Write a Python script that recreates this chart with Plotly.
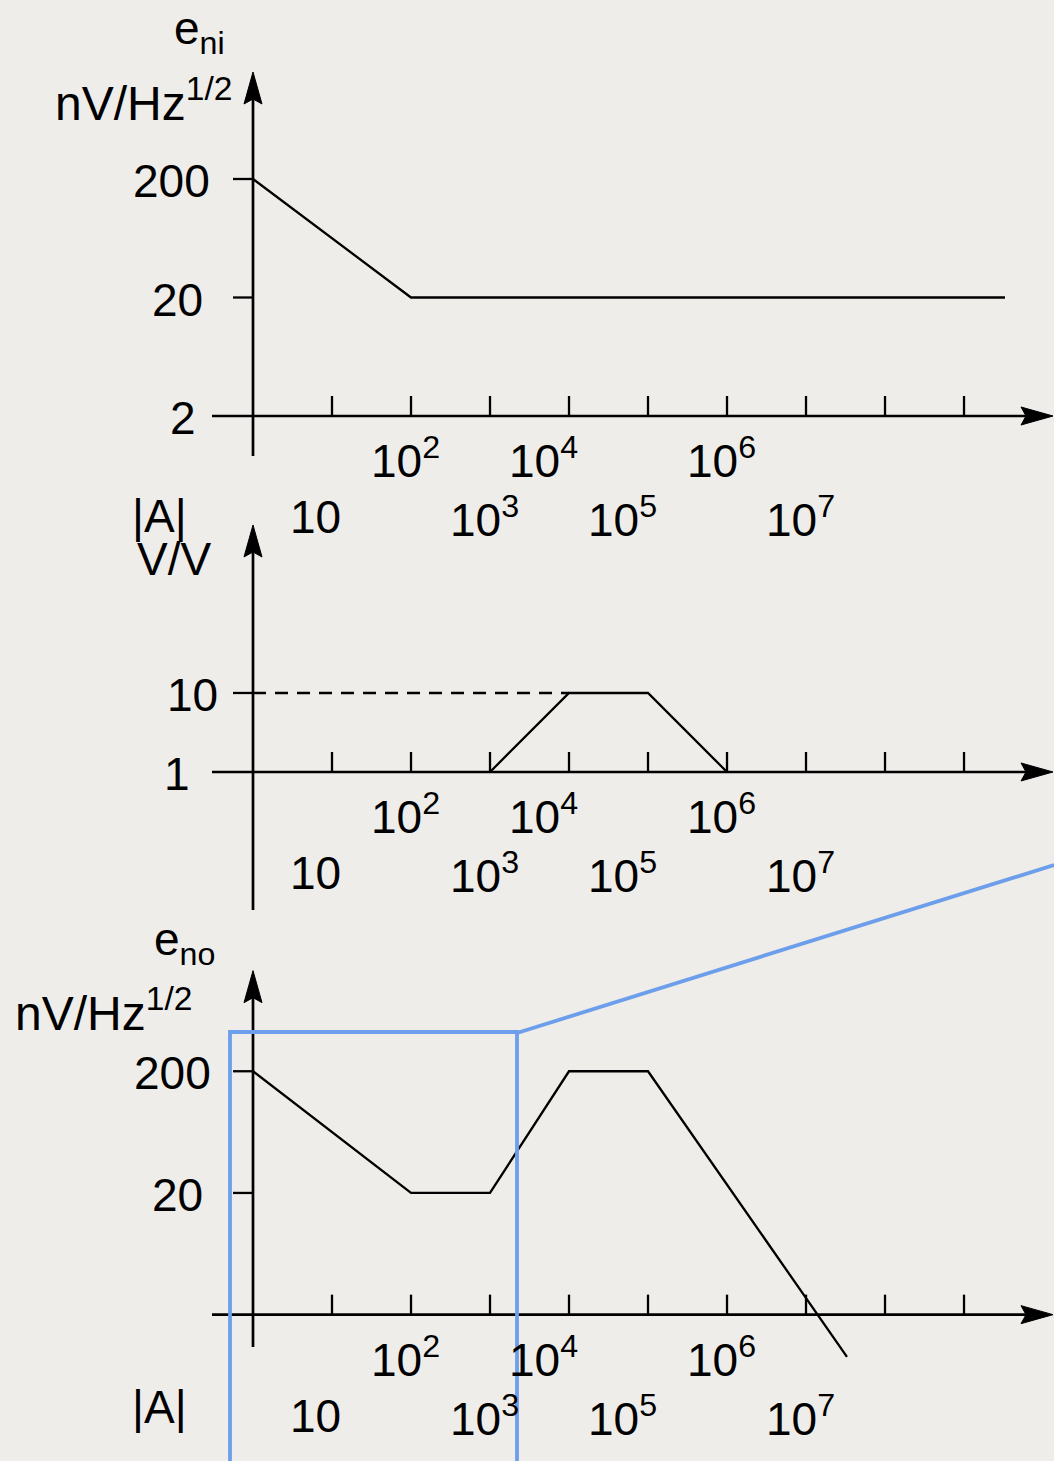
import math
import plotly.graph_objects as go

# ---------------- data ----------------
# |A| axis: tick exponents (decades) shown on every panel
tick_exps = [1, 2, 3, 4, 5, 6, 7, 8, 9]
label_row1_exps = [2, 4, 6]
label_row2_exps = [1, 3, 5, 7]

# panel 1: input noise e_ni (nV/Hz^1/2) vs |A|
eni_x = [1, 1e2, 3.3e9]
eni_y = [200, 20, 20]
eni_ytick_vals = [200, 20]
eni_ylabels = ["200", "20", "2"]
eni_ylabel_vals = [200, 20, 2]
eni_axis_y = 2

# panel 2: gain |A| (V/V) vs |A|
gain_x = [1e3, 1e4, 1e5, 1e6]
gain_y = [1, 10, 10, 1]
gain_ref_x = [1, 1e4]
gain_ref_y = [10, 10]
gain_ytick_vals = [10]
gain_ylabels = ["10", "1"]
gain_ylabel_vals = [10, 1]
gain_axis_y = 1

# panel 3: output noise e_no (nV/Hz^1/2) vs |A|
eno_x = [1, 1e2, 1e3, 1e4, 1e5, 3.3e7]
eno_y = [200, 20, 20, 200, 200, 0.9]
eno_ytick_vals = [200, 20]
eno_ylabels = ["200", "20"]
eno_ylabel_vals = [200, 20]
eno_axis_y = 2

# ---------------- style ----------------
W, H = 1054, 1461
BG = "#eeede9"
INK = "#000000"
BLUE = "#6d9eeb"
FONT = "Liberation Sans, Arial, Helvetica, sans-serif"
FS = 46
AXW = 2.7
CURW = 2.3

# label horizontal nudges (px) relative to tick positions
row1_dx = {2: -6, 4: -26, 6: -6}
row2_dx = {1: -17, 3: -6, 5: -26, 7: -6}

fig = go.Figure()

X_RANGE = [-3.2025, 10.139]
X_LEFT = 10 ** X_RANGE[0]          # left edge of every panel (pixel anchor)
panels = [
    dict(xa="x", ya="y", dom=[1 - 480 / H, 1.0], yr=[-0.2391, 3.8116],
         axis_y=eni_axis_y, up=344, yline=(24, 390), ytick=eni_ytick_vals,
         ylabels=eni_ylabels, ylabel_vals=eni_ylabel_vals,
         ylabel_dx=[-41, -48, -55]),
    dict(xa="x2", ya="y2", dom=[1 - 925 / H, 1 - 480 / H], yr=[-1.937, 3.696],
         axis_y=gain_axis_y, up=247, yline=(15, 382), ytick=gain_ytick_vals,
         ylabels=gain_ylabels, ylabel_vals=gain_ylabel_vals,
         ylabel_dx=[-33, -61]),
    dict(xa="x3", ya="y3", dom=[0.0, 1 - 925 / H], yr=[-0.9015, 3.5027],
         axis_y=eno_axis_y, up=344, yline=(114, 481), ytick=eno_ytick_vals,
         ylabels=eno_ylabels, ylabel_vals=eno_ylabel_vals,
         ylabel_dx=[-40, -48]),
]

curves = [
    (0, eni_x, eni_y, None),
    (1, gain_x, gain_y, None),
    (1, gain_ref_x, gain_ref_y, "13px,9px"),
    (2, eno_x, eno_y, None),
]
for pi, xs, ys, dash in curves:
    p = panels[pi]
    fig.add_trace(go.Scatter(
        x=xs, y=ys, xaxis=p["xa"], yaxis=p["ya"], mode="lines",
        line=dict(color=INK, width=CURW, dash=dash or "solid"),
        hoverinfo="skip", showlegend=False))

shapes = []
annotations = []
for p in panels:
    xr, yr, ay = p["xa"], p["ya"], p["axis_y"]
    y_bottom = 10 ** p["yr"][0]
    # x axis line (pixel offsets from the panel's left edge)
    shapes.append(dict(type="line", xref=xr, yref=yr, xsizemode="pixel", xanchor=X_LEFT,
                       x0=212, x1=1035, y0=ay, y1=ay, line=dict(color=INK, width=AXW)))
    # y axis line (pixel offsets from the panel's bottom edge)
    shapes.append(dict(type="line", xref=xr, yref=yr, ysizemode="pixel", yanchor=y_bottom,
                       y0=p["yline"][0], y1=p["yline"][1], x0=1, x1=1,
                       line=dict(color=INK, width=AXW)))
    # arrow heads
    shapes.append(dict(type="path", xref=xr, yref=yr, xsizemode="pixel", ysizemode="pixel",
                       xanchor=1, yanchor=ay,
                       path="M800,0 L768,9 L773,0 L768,-9 Z",
                       fillcolor=INK, line=dict(color=INK, width=1)))
    u = p["up"]
    shapes.append(dict(type="path", xref=xr, yref=yr, xsizemode="pixel", ysizemode="pixel",
                       xanchor=1, yanchor=ay,
                       path=f"M0,{u} L-9,{u-32} L0,{u-27} L9,{u-32} Z",
                       fillcolor=INK, line=dict(color=INK, width=1)))
    # x ticks
    for e in tick_exps:
        shapes.append(dict(type="line", xref=xr, yref=yr, ysizemode="pixel", yanchor=ay,
                           y0=0.5, y1=20, x0=10 ** e, x1=10 ** e,
                           line=dict(color=INK, width=2.3)))
    # y ticks
    for v in p["ytick"]:
        shapes.append(dict(type="line", xref=xr, yref=yr, xsizemode="pixel", xanchor=X_LEFT,
                           x0=233, x1=253, y0=v, y1=v, line=dict(color=INK, width=2.3)))
    # x tick labels (two staggered rows)
    for e in label_row1_exps:
        annotations.append(dict(xref=xr, yref=yr, x=e, y=math.log10(ay), text=f"10<sup>{e}</sup>",
                                showarrow=False, xanchor="center", yanchor="middle",
                                xshift=row1_dx[e], yshift=-42,
                                font=dict(size=FS, color=INK, family=FONT)))
    for e in label_row2_exps:
        txt = "10" if e == 1 else f"10<sup>{e}</sup>"
        annotations.append(dict(xref=xr, yref=yr, x=e, y=math.log10(ay), text=txt,
                                showarrow=False, xanchor="center", yanchor="middle",
                                xshift=row2_dx[e], yshift=-101,
                                font=dict(size=FS, color=INK, family=FONT)))
    # y tick labels
    for lab, v, dx in zip(p["ylabels"], p["ylabel_vals"], p["ylabel_dx"]):
        annotations.append(dict(xref=xr, yref=yr, x=0, y=math.log10(v), text=lab,
                                showarrow=False, xanchor="right", yanchor="middle",
                                xshift=dx, yshift=-2,
                                font=dict(size=FS, color=INK, family=FONT)))

# axis titles (paper coordinates)
def ptxt(text, x_px, y_px, anchor="right", size=FS):
    annotations.append(dict(xref="paper", yref="paper", x=x_px / W, y=1 - y_px / H,
                            text=text, showarrow=False, xanchor=anchor, yanchor="middle",
                            font=dict(size=size, color=INK, family=FONT)))

ptxt("e<sub>ni</sub>", 227, 32)
ptxt("nV/Hz<sup>1/2</sup>", 234, 100, size=48)
ptxt("|A|", 159, 516, "center")
ptxt("V/V", 174, 559, "center")
ptxt("e<sub>no</sub>", 217, 942)
ptxt("nV/Hz<sup>1/2</sup>", 194, 1010, size=48)
ptxt("|A|", 159, 1407, "center")

# blue highlight overlay
shapes.append(dict(type="rect", xref="paper", yref="paper",
                   x0=230 / W, x1=517 / W, y0=-0.05, y1=1 - 1032 / H,
                   line=dict(color=BLUE, width=3.8), fillcolor="rgba(0,0,0,0)"))
shapes.append(dict(type="line", xref="paper", yref="paper",
                   x0=517 / W, y0=1 - 1033 / H, x1=1.0, y1=1 - 865 / H,
                   line=dict(color=BLUE, width=3.8)))

layout = dict(
    width=W, height=H, margin=dict(l=0, r=0, t=0, b=0),
    paper_bgcolor=BG, plot_bgcolor="rgba(0,0,0,0)",
    showlegend=False, shapes=shapes, annotations=annotations,
    font=dict(family=FONT, color=INK),
)
for i, p in enumerate(panels):
    sfx = "" if i == 0 else str(i + 1)
    layout["xaxis" + sfx] = dict(type="log", range=X_RANGE, domain=[0, 1], visible=False,
                                 anchor=p["ya"], fixedrange=True)
    layout["yaxis" + sfx] = dict(type="log", range=p["yr"], domain=p["dom"], visible=False,
                                 anchor=p["xa"], fixedrange=True)
fig.update_layout(**layout)

fig.write_html("out.html", config={"displayModeBar": False},
               post_script="document.body.style.margin='0';document.body.style.background='%s';" % BG)
